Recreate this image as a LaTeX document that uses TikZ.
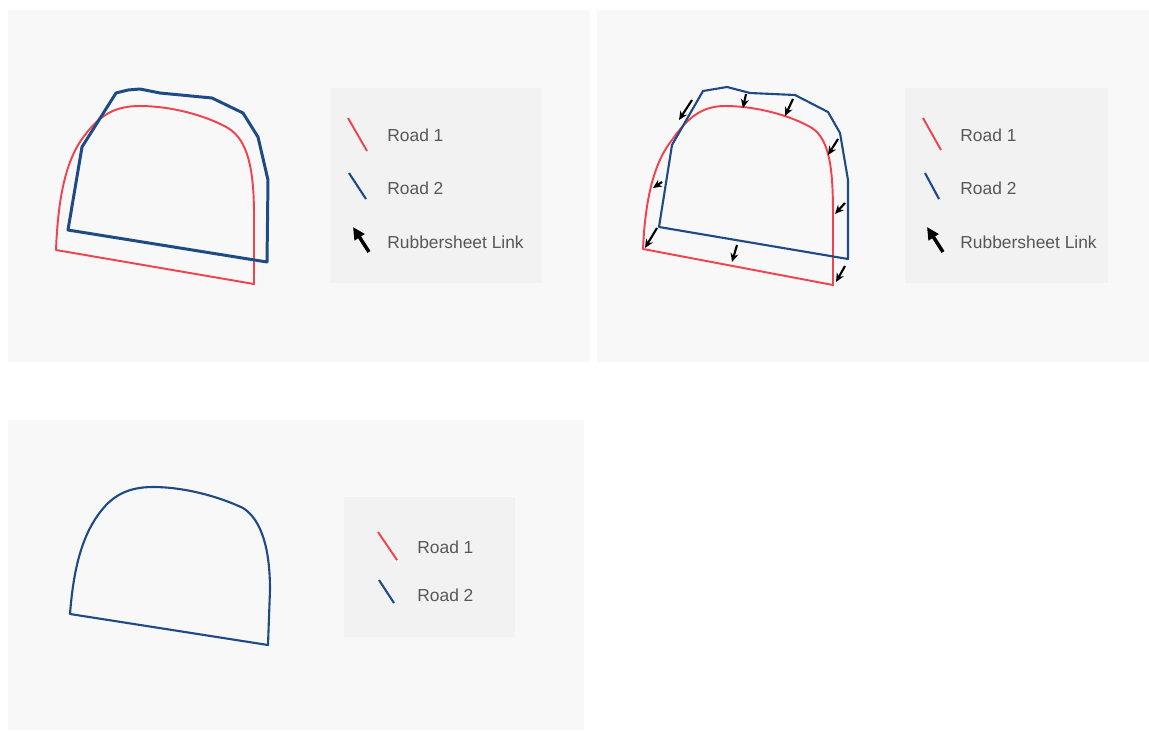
\documentclass[tikz,border=0pt]{standalone}
\usepackage{fontspec}
\setmainfont{Liberation Sans}
\usepackage{xcolor}
\usepackage{tikz}
\usetikzlibrary{arrows.meta, positioning}

\definecolor{roadred}{HTML}{F0424F}
\definecolor{roadblue}{HTML}{1E4A86}
\definecolor{panelbg}{HTML}{F8F8F8}
\definecolor{legendbg}{HTML}{F2F2F2}
\definecolor{legendtext}{HTML}{575757}

\begin{document}
\begin{tikzpicture}[
    x=0.02cm,
    y=-0.02cm,
    panel/.style={
        fill=panelbg,
        draw=none
    },
    legendbox/.style={
        fill=legendbg,
        draw=none
    },
    legtext/.style={
        anchor=west,
        inner sep=0pt,
        text=legendtext,
        font=\fontsize{9.9}{12}\selectfont
    },
    road1/.style={
        draw=roadred,
        line width=1.1pt,
        line join=round
    },
    road2/.style={
        draw=roadblue,
        line width=1.2pt,
        line join=round
    },
    link/.style={
        -{Stealth[length=5pt,width=4.5pt]},
        line width=1.2pt,
        black
    },
    legarrow/.style={
        -{Triangle[length=7pt,width=6.5pt]},
        line width=2pt,
        black
    }
]

\useasboundingbox (0,0) rectangle (1149,730);

\fill[panel] (8,10) rectangle (590,362);
\fill[panel] (597,10) rectangle (1149,362);
\fill[panel] (8,420) rectangle (584,730);

% before matching
\draw[road1] (56,250) .. controls (58,200) and (65,160) .. (85,135)
    .. controls (100,115) and (115,106) .. (140,106)
    .. controls (170,106) and (205,115) .. (228,128)
    .. controls (248,140) and (254,170) .. (254,215) -- (254,284) -- cycle;
\draw[road2, line width=1.7pt] (68,230) -- (82,147) -- (116,93) -- (128,90) -- (140,89) -- (160,93) -- (212,98) -- (243,113) -- (258,137) -- (268,180) -- (267,262) -- cycle;

\fill[legendbox] (330,88) rectangle (542,283);
\node[legtext] (r1a) at (387,135) {Road 1};
\node[legtext] (r2a) at (387,188) {Road 2};
\node[legtext] (lka) at (387,242) {Rubbersheet Link};
\draw[road1] (348,118) -- (367,151);
\draw[road2] (349,173) -- (366,199);
\draw[legarrow] (369,252) -- (353,227);

% links
\draw[road1] (643,249) .. controls (645,205) and (652,165) .. (672,140)
    .. controls (686,120) and (700,106) .. (725,106)
    .. controls (755,106) and (790,115) .. (812,128)
    .. controls (830,140) and (833,170) .. (833,215) -- (833,285) -- cycle;
\draw[road2] (659,227) -- (672,145) -- (703,91) -- (727,87) -- (750,93) -- (795,95) -- (828,112) -- (840,133) -- (848,180) -- (848,259) -- cycle;
\foreach \tx/\ty/\hx/\hy in {692/100/679/120, 746/94/743/108, 793/99/785/116,
    838/139/828/155, 662/182/653/188, 845/203/835/214,
    657/228/645/248, 737/245/732/262, 845/266/836/282}{
    \coordinate (lt) at (\tx,\ty);
    \coordinate (lh) at (\hx,\hy);
    \draw[link] (lt) -- (lh);
}

\fill[legendbox] (905,88) rectangle (1108,283);
\node[legtext] (r1b) at (960,135) {Road 1};
\node[legtext] (r2b) at (960,188) {Road 2};
\node[legtext] (lkb) at (960,242) {Rubbersheet Link};
\draw[road1] (923,118) -- (941,150);
\draw[road2] (925,173) -- (939,199);
\draw[legarrow] (943,252) -- (927,227);

% result
\draw[road2] (70,614) .. controls (73,575) and (80,540) .. (98,515)
    .. controls (110,498) and (125,487) .. (153,487)
    .. controls (185,487) and (220,497) .. (243,508)
    .. controls (262,520) and (270,550) .. (270,590) -- (268,645) -- cycle;

\fill[legendbox] (344,497) rectangle (515,637);
\node[legtext] (r1c) at (417,547) {Road 1};
\node[legtext] (r2c) at (417,595) {Road 2};
\draw[road1] (378,532) -- (397,560);
\draw[road2] (379,580) -- (394,603);

\end{tikzpicture}
\end{document}
